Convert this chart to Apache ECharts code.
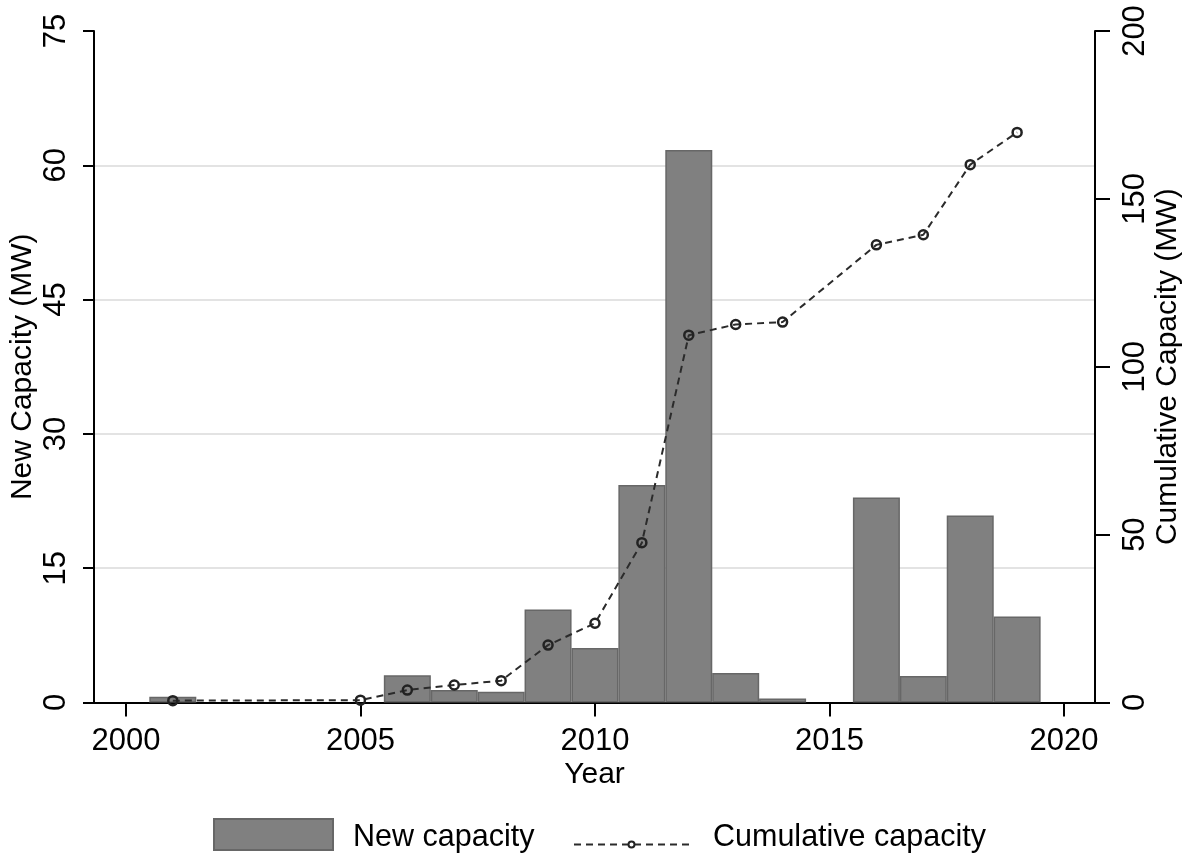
<!DOCTYPE html>
<html>
<head>
<meta charset="utf-8">
<script src="https://cdn.jsdelivr.net/npm/echarts@6/dist/echarts.min.js"></script>
<style>
  html, body { margin: 0; padding: 0; background: #fff; }
  #chart { width: 1189px; height: 856px; }
</style>
</head>
<body>
<div id="chart"></div>
<script>
// Annual additions of capacity (MW), by year
const newYears = [2001, 2006, 2007, 2008, 2009, 2010, 2011, 2012, 2013, 2014, 2016, 2017, 2018, 2019];
const newCapacity = [0.65, 3.05, 1.4, 1.2, 10.4, 6.1, 24.3, 61.7, 3.3, 0.45, 22.9, 2.95, 20.9, 9.6];

// Running total of installed capacity (MW)
const cumYears = [2001, 2005, 2006, 2007, 2008, 2009, 2010, 2011, 2012, 2013, 2014, 2016, 2017, 2018, 2019];
const cumCapacity = [0.55, 0.7, 3.7, 5.2, 6.5, 17.1, 23.6, 47.6, 109.4, 112.6, 113.3, 136.3, 139.3, 160.2, 169.8];

// Axis ticks
const yearTicks = [2000, 2005, 2010, 2015, 2020];
const leftTicks = [0, 15, 30, 45, 60, 75];
const rightTicks = [0, 50, 100, 150, 200];

const FONT = "'Liberation Sans', Arial, sans-serif";
const TXT = { fontFamily: FONT, fontSize: 31, color: '#000' };
const TITLE = { fontFamily: FONT, fontSize: 30, color: '#000' };
const LEG = { fontFamily: FONT, fontSize: 30.5, color: '#000' };

const chart = echarts.init(document.getElementById('chart'), null, { renderer: 'canvas' });

chart.setOption({
  animation: false,
  backgroundColor: '#fff',
  textStyle: { fontFamily: FONT },
  grid: { left: 94, right: 94, top: 31, bottom: 153.5, containLabel: false, outerBoundsMode: 'none' },
  legend: [
    {
      data: [{ name: 'New capacity', icon: 'rect' }],
      left: 213, top: 818,
      padding: 0,
      itemWidth: 119, itemHeight: 31,
      formatter: '{t|{name}}',
      textStyle: {
        rich: {
          t: Object.assign({}, LEG, { padding: [6, 0, 0, 15] })
        }
      },
      selectedMode: false
    },
    {
      data: [{ name: 'Cumulative capacity' }],
      left: 573, top: 822,
      padding: 0,
      itemWidth: 115, itemHeight: 7.5,
      formatter: '{t|{name}}',
      textStyle: {
        rich: {
          t: Object.assign({}, LEG, { padding: [0, 0, 14, 19] })
        }
      },
      selectedMode: false
    }
  ],
  xAxis: {
    type: 'value',
    min: 1999.32,
    max: 2020.66,
    name: 'Year',
    nameLocation: 'middle',
    nameGap: 57,
    nameMoveOverlap: false,
    nameTextStyle: TITLE,
    axisLine: { show: true, lineStyle: { color: '#000', width: 2 } },
    axisTick: { show: true, length: 14, customValues: yearTicks, lineStyle: { color: '#000', width: 2 } },
    axisLabel: Object.assign({ customValues: yearTicks, margin: 23, formatter: v => String(v) }, TXT),
    splitLine: { show: false }
  },
  yAxis: [
    {
      type: 'value',
      min: leftTicks[0],
      max: leftTicks[leftTicks.length - 1],
      interval: 15,
      position: 'left',
      name: 'New Capacity (MW)',
      nameLocation: 'middle',
      nameRotate: 90,
      nameGap: 56,
      nameMoveOverlap: false,
      nameTextStyle: TITLE,
      axisLine: { show: true, lineStyle: { color: '#000', width: 2 } },
      axisTick: { show: true, length: 11, lineStyle: { color: '#000', width: 2 } },
      axisLabel: Object.assign({ rotate: 90, margin: 22 }, TXT),
      splitLine: { show: true, showMinLine: false, showMaxLine: false, lineStyle: { color: '#e3e3e3', width: 2 } }
    },
    {
      type: 'value',
      min: rightTicks[0],
      max: rightTicks[rightTicks.length - 1],
      interval: 50,
      position: 'right',
      name: 'Cumulative Capacity (MW)',
      nameLocation: 'middle',
      nameRotate: 90,
      nameGap: 58,
      nameMoveOverlap: false,
      nameTextStyle: TITLE,
      axisLine: { show: true, lineStyle: { color: '#000', width: 2 } },
      axisTick: { show: true, length: 15, lineStyle: { color: '#000', width: 2 } },
      axisLabel: Object.assign({ rotate: 90, margin: 25 }, TXT),
      splitLine: { show: false }
    }
  ],
  series: [
    {
      name: 'New capacity',
      type: 'bar',
      yAxisIndex: 0,
      barWidth: 47,
      data: newYears.map((y, i) => [y, newCapacity[i]]),
      itemStyle: { color: '#808080', borderColor: '#676767', borderWidth: 1.5 },
      z: 2
    },
    {
      name: 'Cumulative capacity',
      type: 'line',
      yAxisIndex: 1,
      data: cumYears.map((y, i) => [y, cumCapacity[i]]),
      symbol: 'circle',
      symbolSize: 9,
      showAllSymbol: true,
      lineStyle: { color: '#2b2b2b', width: 2, type: [7, 5] },
      itemStyle: { color: 'rgba(255,255,255,0)', borderColor: '#222', borderWidth: 2.5 },
      z: 3
    }
  ]
});
</script>
</body>
</html>
